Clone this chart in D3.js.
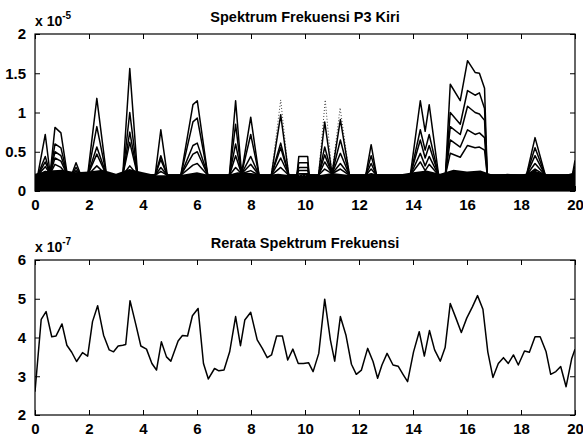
<!DOCTYPE html>
<html>
<head>
<meta charset="utf-8">
<script src="https://cdn.jsdelivr.net/npm/d3@7"></script>
<style>
  body { margin: 0; background: #fff; }
  text { font-family: "Liberation Sans", Arial, sans-serif; fill: #000; }
</style>
</head>
<body>
<div id="chart"></div>
<script>
// ---- top panel: spectra (units of 1e-5) ----
const xTicks = [0, 2, 4, 6, 8, 10, 12, 14, 16, 18, 20];
const topTicks = [0, 0.5, 1, 1.5, 2];
const topTickLabels = ['0', '0.5', '1', '1.5', '2'];

// vertices of the peak lines (Hz)
const peakFreq = [0, 0.1, 0.38, 0.56, 0.74, 0.96, 1.2, 1.35, 1.52, 1.7, 1.95, 2.29, 2.65,
  3.25, 3.51, 3.8, 4.45, 4.66, 4.9, 5.4, 5.85, 6.01, 6.4, 7.2, 7.43, 7.65, 7.99, 8.3,
  8.75, 9.1, 9.4, 9.7, 9.77, 10.1, 10.15, 10.5, 10.73, 11.0, 11.31, 11.65, 12.25, 12.45,
  12.65, 13.9, 14.27, 14.45, 14.6, 14.95, 15.2, 15.38, 15.75, 16.02, 16.3, 16.46, 16.65,
  16.75, 18.2, 18.52, 18.9, 19.9, 20];
const level1 = [0.2, 0.2, 0.72, 0.22, 0.81, 0.74, 0.2, 0.2, 0.36, 0.2, 0.2, 1.18, 0.2,
  0.2, 1.56, 0.2, 0.2, 0.78, 0.2, 0.2, 1.1, 1.15, 0.2, 0.2, 1.15, 0.22, 0.94, 0.2,
  0.2, 0.97, 0.2, 0.2, 0.44, 0.44, 0.2, 0.2, 0.88, 0.22, 0.91, 0.2, 0.2, 0.59,
  0.2, 0.2, 1.15, 0.76, 1.1, 0.2, 0.2, 1.36, 1.15, 1.66, 1.51, 1.5, 1.31,
  0.2, 0.2, 0.68, 0.2, 0.2, 0.39];
const level2 = [0.2, 0.2, 0.44, 0.22, 0.6, 0.55, 0.2, 0.2, 0.3, 0.2, 0.2, 0.82, 0.2,
  0.2, 1.0, 0.2, 0.2, 0.45, 0.2, 0.2, 0.88, 0.93, 0.2, 0.2, 0.85, 0.22, 0.72, 0.2,
  0.2, 0.61, 0.2, 0.2, 0.36, 0.36, 0.2, 0.2, 0.56, 0.22, 0.65, 0.2, 0.2, 0.45,
  0.2, 0.2, 0.78, 0.52, 0.72, 0.2, 0.2, 1.0, 0.85, 1.28, 1.22, 1.25, 1.05,
  0.2, 0.2, 0.55, 0.2, 0.2, 0.32];
const level3 = [0.2, 0.2, 0.37, 0.22, 0.5, 0.45, 0.2, 0.2, 0.26, 0.2, 0.2, 0.56, 0.2,
  0.2, 0.75, 0.2, 0.2, 0.4, 0.2, 0.2, 0.58, 0.61, 0.2, 0.2, 0.6, 0.22, 0.44, 0.2,
  0.2, 0.55, 0.2, 0.2, 0.3, 0.3, 0.2, 0.2, 0.46, 0.22, 0.48, 0.2, 0.2, 0.35,
  0.2, 0.2, 0.65, 0.42, 0.58, 0.2, 0.2, 0.82, 0.72, 1.08, 1.0, 0.98, 0.9,
  0.2, 0.2, 0.45, 0.2, 0.2, 0.27];
const level4 = [0.2, 0.2, 0.31, 0.22, 0.42, 0.38, 0.2, 0.2, 0.23, 0.2, 0.2, 0.47, 0.2,
  0.2, 0.62, 0.2, 0.2, 0.3, 0.2, 0.2, 0.47, 0.5, 0.2, 0.2, 0.45, 0.22, 0.34, 0.2,
  0.2, 0.42, 0.2, 0.2, 0.26, 0.26, 0.2, 0.2, 0.37, 0.22, 0.35, 0.2, 0.2, 0.28,
  0.2, 0.2, 0.48, 0.32, 0.44, 0.2, 0.2, 0.65, 0.56, 0.78, 0.72, 0.74, 0.68,
  0.2, 0.2, 0.35, 0.2, 0.2, 0.24];
const level5 = [0.2, 0.2, 0.25, 0.22, 0.34, 0.3, 0.2, 0.2, 0.21, 0.2, 0.2, 0.32, 0.2,
  0.2, 0.32, 0.2, 0.2, 0.25, 0.2, 0.2, 0.33, 0.35, 0.2, 0.2, 0.3, 0.22, 0.26, 0.2,
  0.2, 0.3, 0.2, 0.2, 0.22, 0.22, 0.2, 0.2, 0.28, 0.22, 0.28, 0.2, 0.2, 0.22,
  0.2, 0.2, 0.37, 0.26, 0.34, 0.2, 0.2, 0.48, 0.43, 0.58, 0.55, 0.56, 0.52,
  0.2, 0.2, 0.28, 0.2, 0.2, 0.21];

// faint dotted traces reaching above some peaks
const dotFreq = [8.75, 9.1, 9.4, 10.5, 10.75, 11.0, 11.3, 11.65];
const dotVal = [0.2, 1.16, 0.2, 0.2, 1.16, 0.22, 1.06, 0.2];

// dense noise floor (top edge of the black band)
const floorFreq = [0, 0.5, 1, 1.5, 2, 2.5, 3, 3.5, 4, 4.5, 5, 5.5, 6, 6.5, 7, 7.5, 8, 8.5, 9, 9.5,
  10, 10.5, 11, 11.5, 12, 12.5, 13, 13.5, 14, 14.5, 15, 15.5, 16, 16.5, 17, 17.5, 18, 18.5, 19, 19.5, 20];
const floorTop = [0.22, 0.26, 0.27, 0.24, 0.25, 0.27, 0.22, 0.28, 0.24, 0.2, 0.2, 0.21, 0.24, 0.2, 0.19,
  0.24, 0.23, 0.2, 0.22, 0.2, 0.22, 0.2, 0.23, 0.21, 0.19, 0.22, 0.2, 0.21, 0.24, 0.26, 0.22, 0.27,
  0.25, 0.26, 0.2, 0.22, 0.2, 0.26, 0.2, 0.19, 0.24];

// ---- bottom panel: mean spectrum (units of 1e-7) ----
const botTicks = [2, 3, 4, 5, 6];
const meanFreq = [0, 0.23, 0.41, 0.62, 0.78, 1.0, 1.18, 1.36, 1.54, 1.76, 1.95, 2.13, 2.32,
  2.54, 2.75, 2.91, 3.08, 3.25, 3.36, 3.52, 3.74, 3.92, 4.13, 4.33, 4.5, 4.68, 4.87, 5.03,
  5.3, 5.46, 5.65, 5.83, 6.04, 6.24, 6.42, 6.65, 6.81, 7.0, 7.21, 7.43, 7.61, 7.77, 7.99,
  8.23, 8.42, 8.6, 8.76, 8.95, 9.16, 9.36, 9.55, 9.75, 9.94, 10.13, 10.3, 10.51, 10.73,
  10.94, 11.1, 11.31, 11.52, 11.72, 11.9, 12.09, 12.32, 12.52, 12.69, 12.85, 13.04, 13.26,
  13.45, 13.63, 13.8, 14.02, 14.23, 14.42, 14.61, 14.8, 15.01, 15.19, 15.38, 15.59, 15.79,
  15.99, 16.2, 16.39, 16.59, 16.77, 16.96, 17.16, 17.35, 17.53, 17.72, 17.9, 18.13, 18.31,
  18.52, 18.71, 18.93, 19.1, 19.29, 19.47, 19.67, 19.88, 20.0];
const meanVal = [2.6, 4.47, 4.67, 4.02, 4.04, 4.35, 3.8, 3.62, 3.38, 3.61, 3.52, 4.41, 4.82,
  4.06, 3.68, 3.63, 3.78, 3.8, 3.82, 4.95, 4.32, 3.78, 3.7, 3.33, 3.16, 3.89, 3.5, 3.39,
  3.91, 4.05, 4.04, 4.56, 4.75, 3.33, 2.93, 3.2, 3.14, 3.16, 3.63, 4.54, 3.79, 4.45, 4.65,
  3.94, 3.72, 3.48, 3.55, 4.04, 4.04, 3.42, 3.7, 3.33, 3.33, 3.35, 3.12, 3.59, 4.99,
  3.94, 3.39, 4.54, 4.05, 3.31, 3.05, 3.16, 3.72, 3.38, 2.95, 3.29, 3.59, 3.29,
  3.26, 3.05, 2.86, 3.63, 4.15, 3.52, 4.18, 3.68, 3.39, 3.74, 4.88, 4.5, 4.13,
  4.5, 4.79, 5.08, 4.73, 3.63, 2.97, 3.33, 3.48, 3.33, 3.55, 3.29, 3.65, 3.62,
  4.02, 4.02, 3.63, 3.05, 3.12, 3.25, 2.73, 3.46, 3.7];

const width = 583, height = 437;
const svg = d3.select('#chart').append('svg')
    .attr('width', width)
    .attr('height', height);

const left = 35, right = 575;
const x = d3.scaleLinear().domain([0, 20]).range([left, right]);
const yTop = d3.scaleLinear().domain([0, 2]).range([191, 34]);
const yBot = d3.scaleLinear().domain([2, 6]).range([415, 260]);

function panel(y, yTicks, yLabels, clipId, title, expo) {
    const [y0, y1] = y.range();
    svg.append('clipPath').attr('id', clipId)
        .append('rect')
        .attr('x', left).attr('y', y1)
        .attr('width', right - left).attr('height', y0 - y1);

    const g = svg.append('g');

    // inward ticks on all four sides
    g.append('g').attr('transform', `translate(0,${y0})`)
        .call(d3.axisBottom(x).tickValues(xTicks).tickSizeInner(-5).tickSizeOuter(0).tickPadding(8));
    g.append('g').attr('transform', `translate(0,${y1})`)
        .call(d3.axisTop(x).tickValues(xTicks).tickSizeInner(-5).tickSizeOuter(0).tickFormat(''));
    g.append('g').attr('transform', `translate(${left},0)`)
        .call(d3.axisLeft(y).tickValues(yTicks).tickSizeInner(-5).tickSizeOuter(0).tickPadding(9)
            .tickFormat((d, i) => yLabels[i]));
    g.append('g').attr('transform', `translate(${right},0)`)
        .call(d3.axisRight(y).tickValues(yTicks).tickSizeInner(-5).tickSizeOuter(0).tickFormat(''));

    g.selectAll('.domain').remove();
    g.selectAll('.tick line').attr('stroke', '#000').attr('stroke-width', 1);
    g.selectAll('.tick text')
        .attr('font-size', 15).attr('font-weight', 'bold')
        .attr('font-family', '"Liberation Sans", Arial, sans-serif');

    g.append('rect')
        .attr('x', left).attr('y', y1)
        .attr('width', right - left).attr('height', y0 - y1)
        .attr('fill', 'none').attr('stroke', '#000').attr('stroke-width', 1.2);

    svg.append('text')
        .attr('x', (left + right) / 2).attr('y', y1 - 12)
        .attr('text-anchor', 'middle')
        .attr('font-size', 14.5).attr('font-weight', 'bold')
        .text(title);

    const ex = svg.append('text')
        .attr('x', left).attr('y', y1 - 8)
        .attr('font-size', 14).attr('font-weight', 'bold');
    ex.append('tspan').text('x 10');
    ex.append('tspan').attr('dy', -7).attr('font-size', 10).text(expo);

    return svg.append('g').attr('clip-path', `url(#${clipId})`);
}

const topPlot = panel(yTop, topTicks, topTickLabels, 'clipTop', 'Spektrum Frekuensi P3 Kiri', '-5');

topPlot.append('path')
    .datum(floorFreq.map((f, i) => [f, floorTop[i]]))
    .attr('fill', '#000')
    .attr('d', d3.area().x(d => x(d[0])).y0(yTop(0)).y1(d => yTop(d[1])));

const line = d3.line().x(d => x(d[0])).y(d => yTop(d[1]));

topPlot.append('path')
    .attr('fill', 'none')
    .attr('stroke', '#444')
    .attr('stroke-width', 1)
    .attr('stroke-dasharray', '1,2')
    .attr('d', line(dotFreq.map((f, i) => [f, dotVal[i]])));

const levels = [level5, level4, level3, level2, level1];
topPlot.selectAll('path.lvl')
    .data(levels)
    .join('path')
    .attr('class', 'lvl')
    .attr('fill', 'none')
    .attr('stroke', '#000')
    .attr('stroke-width', 1.5)
    .attr('stroke-linejoin', 'round')
    .attr('d', vals => line(peakFreq.map((f, i) => [f, vals[i]])));

const botPlot = panel(yBot, botTicks, botTicks.map(String), 'clipBot', 'Rerata Spektrum Frekuensi', '-7');

botPlot.append('path')
    .datum(meanFreq.map((f, i) => [f, meanVal[i]]))
    .attr('fill', 'none')
    .attr('stroke', '#000')
    .attr('stroke-width', 1.5)
    .attr('stroke-linejoin', 'round')
    .attr('d', d3.line().x(d => x(d[0])).y(d => yBot(d[1])));
</script>
</body>
</html>
